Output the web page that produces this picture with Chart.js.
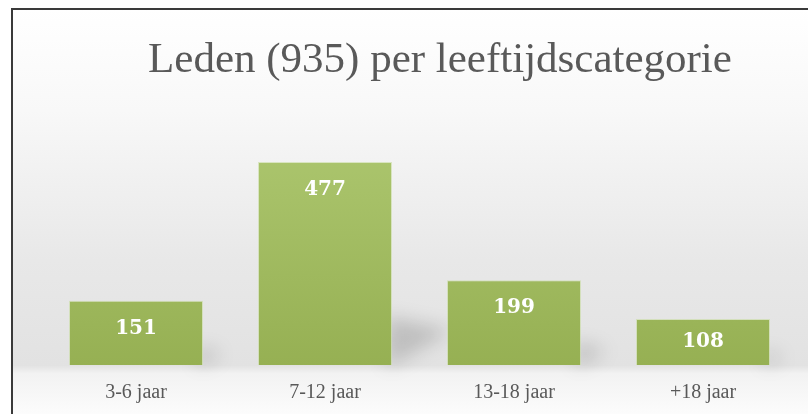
<!DOCTYPE html>
<html><head><meta charset="utf-8">
<script src="https://cdn.jsdelivr.net/npm/chart.js@4/dist/chart.umd.min.js"></script>
<style>html,body{margin:0;padding:0;background:#fff;}#wrap{width:808px;height:414px;position:relative;}</style>
</head><body><div id="wrap"><canvas id="c" width="808" height="414"></canvas></div>
<script>
const chartTitle = "Leden (935) per leeftijdscategorie";
const categories = ["3-6 jaar", "7-12 jaar", "13-18 jaar", "+18 jaar"];
const members = [151, 477, 199, 108];

const bgPlugin = {
  id: 'bg',
  beforeDraw(chart) {
    const ctx = chart.ctx;
    const H = chart.height, W = chart.width;
    ctx.save();
    ctx.fillStyle = '#ffffff';
    ctx.fillRect(0, 0, W, H);
    const g = ctx.createLinearGradient(0, 9, 0, H);
    g.addColorStop(0, '#ffffff');
    g.addColorStop(0.25, '#f8f8f8');
    g.addColorStop(0.62, '#e8e8e8');
    g.addColorStop(0.88, '#e2e2e2');
    g.addColorStop(0.9, '#f2f2f2');
    g.addColorStop(1, '#fcfcfc');
    ctx.fillStyle = g;
    ctx.fillRect(12, 9, W - 12, H - 9);
    ctx.strokeStyle = '#3a3a3a';
    ctx.lineWidth = 2;
    ctx.beginPath();
    ctx.moveTo(12, H); ctx.lineTo(12, 9); ctx.lineTo(W, 9);
    ctx.stroke();
    ctx.fillStyle = '#595959';
    ctx.font = '43px "Liberation Serif", serif';
    ctx.textAlign = 'center';
    ctx.textBaseline = 'middle';
    ctx.fillText(chartTitle, 440, 61);
    ctx.restore();
  },
  beforeDatasetsDraw(chart) {
    const ctx = chart.ctx;
    const meta = chart.getDatasetMeta(0);
    ctx.save();
    ctx.filter = 'blur(9px)';
    ctx.fillStyle = 'rgba(0,0,0,0.16)';
    meta.data.forEach((bar) => {
      const h = bar.base - bar.y;
      const right = bar.x + bar.width / 2;
      ctx.beginPath();
      ctx.moveTo(right - 6, bar.base);
      ctx.lineTo(right - 6, bar.base - 0.22 * h - 4);
      ctx.lineTo(right + 0.3 * h, bar.base - 0.17 * h);
      ctx.lineTo(right, bar.base);
      ctx.closePath();
      ctx.fill();
    });
    ctx.restore();
  },
  afterDatasetsDraw(chart) {
    const ctx = chart.ctx;
    const meta = chart.getDatasetMeta(0);
    ctx.save();
    ctx.fillStyle = '#ffffff';
    ctx.font = 'bold 20px "DejaVu Serif", serif';
    ctx.textAlign = 'center';
    ctx.textBaseline = 'middle';
    meta.data.forEach((bar, i) => {
      const h = bar.base - bar.y;
      const off = Math.min(28, h / 2);
      ctx.fillText(String(members[i]), bar.x, bar.y + off);
    });
    ctx.restore();
  }
};

const ctx = document.getElementById('c').getContext('2d');

new Chart(ctx, {
  type: 'bar',
  data: {
    labels: categories,
    datasets: [{
      data: members,
      backgroundColor: (c) => {
        const a = c.chart.chartArea;
        if (!a) return '#a0bb60';
        const g = c.chart.ctx.createLinearGradient(0, a.top, 0, a.bottom);
        g.addColorStop(0, '#afc972');
        g.addColorStop(1, '#96b053');
        return g;
      },
      borderColor: 'rgba(200,220,160,0.6)',
      borderWidth: 1,
      barPercentage: 0.709,
      categoryPercentage: 1.0
    }]
  },
  plugins: [bgPlugin],
  options: {
    responsive: false,
    animation: false,
    events: [],
    layout: { padding: { left: 41.5, right: 10.5, top: 109.6, bottom: 0 } },
    plugins: { legend: { display: false }, tooltip: { enabled: false }, title: { display: false } },
    scales: {
      y: { display: false, min: 0, max: 600 },
      x: {
        grid: { display: false, drawTicks: false },
        border: { display: false },
        ticks: { color: '#595959', font: { family: '"Liberation Serif", serif', size: 20 }, padding: 16 },
        afterFit(scale) { scale.height = 49; }
      }
    }
  }
});
</script>
</body></html>
